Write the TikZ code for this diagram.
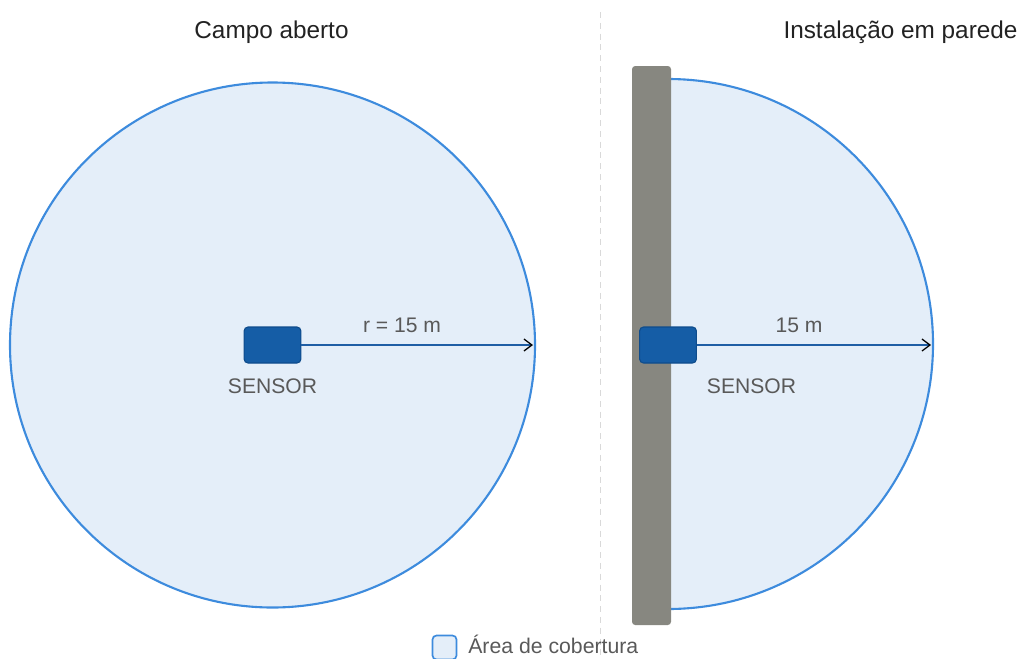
\documentclass[tikz,border=0pt]{standalone}
\usepackage{fontspec}
\setmainfont{Liberation Sans}
\usepackage{xcolor}
\usepackage{tikz}
\usetikzlibrary{arrows, arrows.meta}

\definecolor{coverfill}{HTML}{E4EEF9}
\definecolor{coverline}{HTML}{3D8BDD}
\definecolor{sensorfill}{HTML}{155DA6}
\definecolor{sensorline}{HTML}{0E4C8C}
\definecolor{wallgray}{HTML}{878780}
\definecolor{txtgray}{HTML}{595959}
\definecolor{headgray}{HTML}{222222}
\definecolor{rayblue}{HTML}{1F5EA5}

\begin{document}
\begin{tikzpicture}[x=0.025cm,y=-0.025cm,
  cover/.style={fill=coverfill,draw=coverline,line width=1.5pt},
  sensor/.style={draw=sensorline,fill=sensorfill,line width=0.8pt,rounded corners=0.1cm,minimum width=1.42cm,minimum height=0.9cm,inner sep=0pt},
  ray/.style={draw=rayblue,line width=0.9pt,-{Straight Barb[length=0.2cm,width=0.3cm,color=black]}},
  heading/.style={text=headgray,font=\fontsize{17.3}{20}\selectfont,anchor=base},
  txt/.style={text=txtgray,font=\fontsize{15}{18}\selectfont,anchor=base}]
\useasboundingbox (0,0) rectangle (1023,658);

%divider
\draw[gray!30,line width=0.6pt,dash pattern=on 0.15cm off 0.12cm] (600,12) -- (600,658);

\node[heading] (headA) at (271.5,38) {Campo aberto};
\node[heading] (headB) at (900.5,38) {Instalação em parede};

%open field
\draw[cover] (272.5,345) circle[radius=262.5];
\node[sensor] (sensorA) at (272.5,345) {};
\coordinate (edgeA) at (533,345);
\draw[ray] (sensorA.east) -- (edgeA);
\node[txt] (rayA) at (402,332.5) {r = 15 m};
\node[txt] (nameA) at (272.5,393) {SENSOR};

%wall mount
\begin{scope}
\clip (671,0) rectangle (1023,658);
\draw[cover] (668,344) circle[radius=265];
\end{scope}
\fill[wallgray,rounded corners=0.08cm] (632,66) rectangle (671,625);
\node[sensor] (sensorB) at (668,345) {};
\coordinate (edgeB) at (931,345);
\draw[ray] (sensorB.east) -- (edgeB);
\node[txt] (rayB) at (799,332.5) {15 m};
\node[txt] (nameB) at (751.5,393) {SENSOR};

%legend
\node[draw=coverline,fill=coverfill,line width=1.2pt,rounded corners=0.1cm,minimum size=0.6cm,inner sep=0pt] (key) at (444.5,647.5) {};
\node[txt,anchor=base west,inner sep=0pt,font=\fontsize{15.1}{18}\selectfont] (keytxt) at (468,653) {Área de cobertura};

\end{tikzpicture}
\end{document}
